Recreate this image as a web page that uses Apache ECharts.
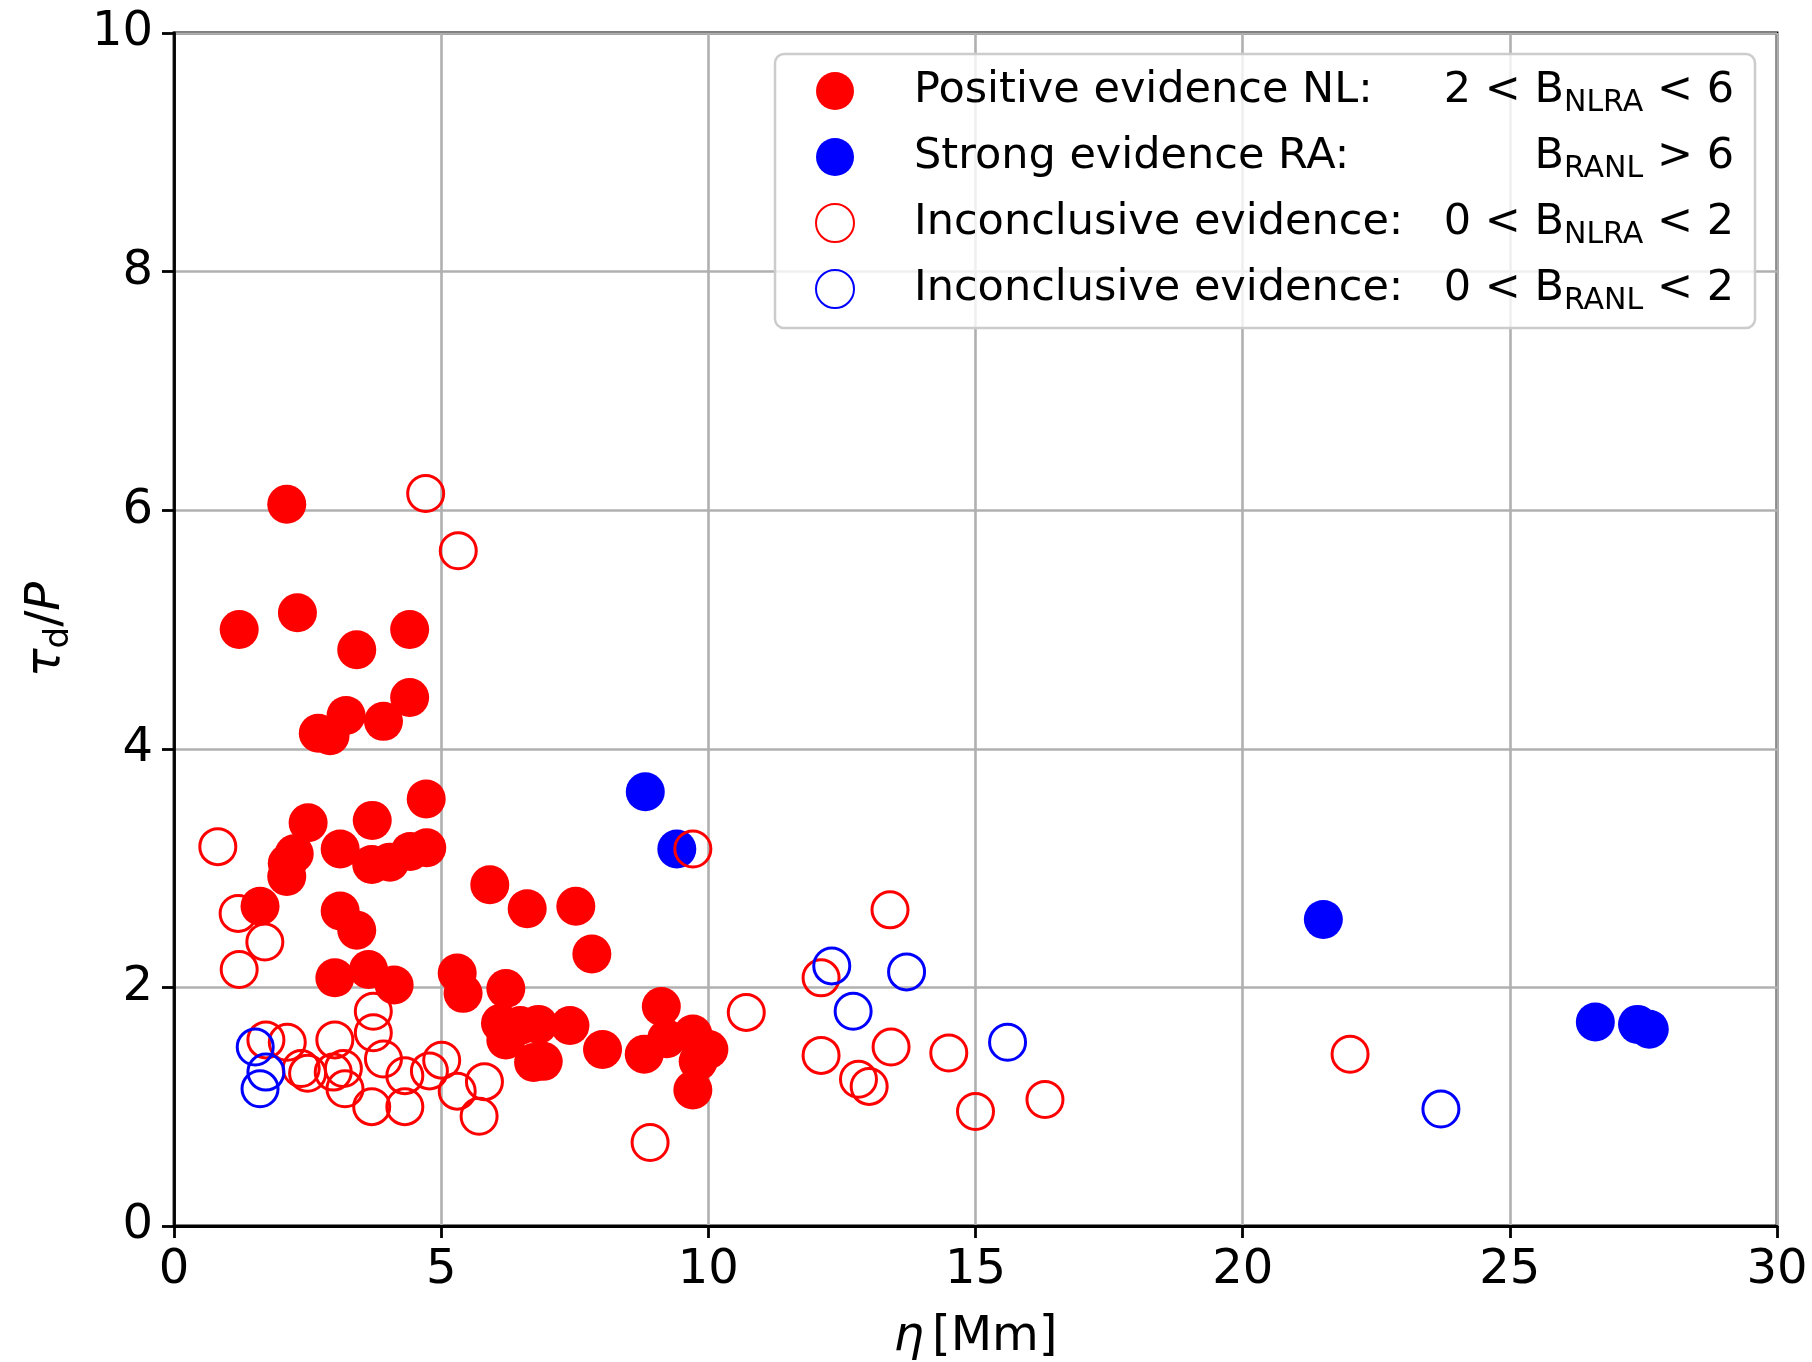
<!DOCTYPE html>
<html>
<head>
<meta charset="utf-8">
<script src="https://cdn.jsdelivr.net/npm/echarts/dist/echarts.min.js"></script>
<style>
html,body{margin:0;padding:0;background:#ffffff;}
#chart{width:1812px;height:1362px;}
</style>
</head>
<body>
<div id="chart"></div>
<script>
// ---- data (eta [Mm], tau_d/P) ----
const positiveNL = [
  [2.11,6.05],[1.22,5.00],[2.31,5.14],[3.42,4.83],[4.41,5.00],[4.41,4.43],
  [3.22,4.28],[3.92,4.23],[2.70,4.13],[2.92,4.11],[4.72,3.58],[2.51,3.38],
  [3.71,3.40],[2.12,3.04],[2.25,3.12],[2.11,2.93],[3.11,3.16],[3.70,3.03],
  [4.04,3.05],[4.42,3.14],[4.73,3.17],[1.61,2.68],[3.11,2.64],[3.42,2.48],
  [3.01,2.08],[3.64,2.15],[4.12,2.02],[5.30,2.12],[5.41,1.95],[5.91,2.86],
  [6.61,2.66],[7.52,2.68],[7.82,2.28],[6.21,1.99],[6.11,1.70],[6.48,1.68],
  [6.82,1.69],[7.41,1.68],[6.21,1.56],[6.73,1.37],[6.91,1.38],[8.02,1.48],
  [8.80,1.44],[9.12,1.84],[9.22,1.57],[9.71,1.61],[10.01,1.48],[9.81,1.38],
  [9.71,1.14]
];
const strongRA = [
  [8.82,3.64],[9.41,3.16],[21.51,2.57],[26.60,1.71],[27.39,1.69],[27.61,1.65]
];
const inconclusiveNL = [
  [4.71,6.14],[5.32,5.66],[0.82,3.18],[1.20,2.62],[1.70,2.38],[1.22,2.15],
  [9.71,3.16],[3.73,1.80],[3.73,1.62],[1.72,1.56],[2.12,1.54],[3.01,1.56],
  [2.38,1.32],[2.50,1.28],[2.98,1.29],[3.17,1.32],[3.20,1.15],[3.92,1.40],
  [4.32,1.26],[3.70,1.00],[4.32,1.00],[4.78,1.30],[5.01,1.39],[5.30,1.13],
  [5.81,1.21],[5.71,0.92],[8.91,0.70],[10.71,1.79],[13.40,2.65],[12.11,2.08],
  [12.11,1.43],[13.42,1.50],[12.81,1.23],[13.01,1.17],[14.50,1.45],[15.00,0.96],
  [16.30,1.06],[22.01,1.44]
];
const inconclusiveRA = [
  [1.52,1.50],[1.72,1.29],[1.61,1.15],[12.31,2.18],[13.71,2.13],[12.71,1.80],
  [15.60,1.54],[23.71,0.98]
];
const seriesNames = ['Positive evidence NL', 'Strong evidence RA', 'Inconclusive NL', 'Inconclusive RA'];
const legendLabels = {
  'Positive evidence NL': '{l|Positive evidence NL:}{r|2 < B}{s|NLRA}{r| < 6}',
  'Strong evidence RA': '{l|Strong evidence RA:}{r|B}{s|RANL}{r| > 6}',
  'Inconclusive NL': '{l|Inconclusive evidence:}{r|0 < B}{s|NLRA}{r| < 2}',
  'Inconclusive RA': '{l|Inconclusive evidence:}{r|0 < B}{s|RANL}{r| < 2}'
};
const xName = '{i|η}{n|[Mm]}';
const yName = '{i|τ}{s|d}{n|/}{i|P}';

const FONT = 'DejaVu Sans';
const RED = '#ff0000', BLUE = '#0000ff';

const chart = echarts.init(document.getElementById('chart'), null, {renderer: 'canvas'});

const axisCommon = {
  axisLine: {show: true, onZero: false, lineStyle: {color: '#000', width: 2.8}},
  axisTick: {show: true, inside: false, length: 12, lineStyle: {color: '#000', width: 2.8}},
  splitLine: {show: true, lineStyle: {color: '#b0b0b0', width: 2.6}},
  axisLabel: {fontFamily: FONT, fontSize: 48, color: '#000', margin: 21}
};

const option = {
  animation: false,
  backgroundColor: '#ffffff',
  grid: {
    left: 174, right: 35, top: 33, bottom: 136,
    show: true, borderColor: '#000', borderWidth: 2.8,
    containLabel: false, outerBoundsMode: 'none'
  },
  legend: {
    data: seriesNames,
    orient: 'vertical',
    left: 775, top: 54,
    padding: [10, 21, 12, 40],
    itemGap: 12,
    itemWidth: 38, itemHeight: 38,
    selectedMode: false,
    backgroundColor: 'rgba(255,255,255,0.8)',
    borderColor: '#cccccc', borderWidth: 2.5, borderRadius: 9,
    formatter: function (name) { return legendLabels[name]; },
    textStyle: {
      fontFamily: FONT, fontSize: 43, color: '#000', width: 875, lineHeight: 54,
      rich: {
        l: {fontFamily: FONT, fontSize: 43, color: '#000', lineHeight: 54, padding: [0, 0, 0, 55]},
        r: {fontFamily: FONT, fontSize: 43, color: '#000', lineHeight: 54, align: 'right'},
        s: {fontFamily: FONT, fontSize: 30, color: '#000', lineHeight: 30, align: 'right', verticalAlign: 'bottom'}
      }
    }
  },
  xAxis: Object.assign({}, axisCommon, {
    type: 'value', min: 0, max: 30, interval: 5,
    name: xName, nameLocation: 'middle', nameGap: 84,
    nameTextStyle: {
      fontFamily: FONT, fontSize: 48, color: '#000', lineHeight: 56,
      rich: {
        i: {fontFamily: FONT, fontSize: 48, fontStyle: 'italic', color: '#000', lineHeight: 56},
        n: {fontFamily: FONT, fontSize: 48, color: '#000', lineHeight: 56, padding: [0, 0, 0, 8]}
      }
    }
  }),
  yAxis: Object.assign({}, axisCommon, {
    type: 'value', min: 0, max: 10, interval: 2,
    name: yName, nameLocation: 'middle', nameGap: 98,
    nameTextStyle: {
      fontFamily: FONT, fontSize: 48, color: '#000', lineHeight: 58,
      rich: {
        i: {fontFamily: FONT, fontSize: 48, fontStyle: 'italic', color: '#000', lineHeight: 58},
        n: {fontFamily: FONT, fontSize: 48, color: '#000', lineHeight: 58},
        s: {fontFamily: FONT, fontSize: 34, color: '#000', lineHeight: 32, verticalAlign: 'bottom'}
      }
    }
  }),
  series: [
    {
      name: seriesNames[0], type: 'scatter', data: positiveNL,
      symbol: 'circle', symbolSize: 39,
      itemStyle: {color: RED, opacity: 1},
      emphasis: {disabled: true}
    },
    {
      name: seriesNames[1], type: 'scatter', data: strongRA,
      symbol: 'circle', symbolSize: 39,
      itemStyle: {color: BLUE, opacity: 1},
      emphasis: {disabled: true}
    },
    {
      name: seriesNames[2], type: 'scatter', data: inconclusiveNL,
      symbol: 'circle', symbolSize: 36,
      itemStyle: {color: 'rgba(0,0,0,0)', borderColor: RED, borderWidth: 3, opacity: 1},
      emphasis: {disabled: true}
    },
    {
      name: seriesNames[3], type: 'scatter', data: inconclusiveRA,
      symbol: 'circle', symbolSize: 36,
      itemStyle: {color: 'rgba(0,0,0,0)', borderColor: BLUE, borderWidth: 3, opacity: 1},
      emphasis: {disabled: true}
    }
  ]
};
chart.setOption(option);
</script>
</body>
</html>
